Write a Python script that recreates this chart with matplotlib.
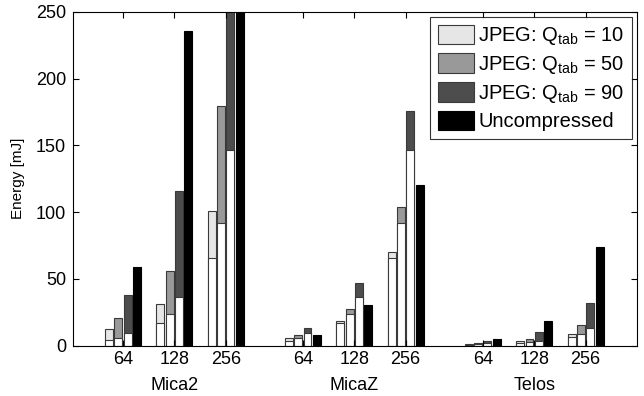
import matplotlib.pyplot as plt
import numpy as np

# dados (mJ)
plataformas = ["Mica2", "MicaZ", "Telos"]
tamanhos = ["64", "128", "256"]

q10_total = [12.3, 31.3, 101.0, 5.5, 18.8, 70.5, 1.5, 3.3, 9.0]
q10_base = [4.3, 16.8, 66.0, 3.8, 16.8, 65.5, 0.8, 2.0, 6.3]
q50_total = [20.5, 56.3, 179.7, 8.0, 27.5, 103.8, 2.0, 5.0, 15.5]
q50_base = [5.5, 23.5, 92.2, 6.0, 23.5, 92.2, 1.0, 2.5, 8.5]
q90_total = [37.8, 116.0, 420.0, 13.0, 47.2, 176.0, 3.5, 10.0, 32.0]
q90_base = [9.3, 36.8, 146.7, 9.3, 36.8, 146.7, 1.8, 3.3, 13.5]
sem_compressao = [59.2, 236.0, 944.0, 8.0, 30.5, 120.0, 5.0, 18.8, 74.2]

rotulos = [r"JPEG: Q$_{\mathrm{tab}}$ = 10", r"JPEG: Q$_{\mathrm{tab}}$ = 50",
           r"JPEG: Q$_{\mathrm{tab}}$ = 90", "Uncompressed"]
cores = ["#e6e6e6", "#999999", "#4d4d4d", "#000000"]

tam_fonte = 13

plt.rcParams.update(
    {
        "font.family": "Liberation Sans",
        "mathtext.fontset": "custom",
        "mathtext.rm": "Liberation Sans",
        "mathtext.it": "Liberation Sans:italic",
        "font.size": tam_fonte,
        "axes.linewidth": 0.8,
    }
)

fig = plt.figure(figsize=(6.44, 3.96), dpi=100)
ax = fig.add_axes([0.1134, 0.127, 0.8757, 0.843])

# posicoes: 3 tamanhos por plataforma, intervalo de 1.5 entre plataformas
pos = np.array([g * 3.5 + i for g in range(3) for i in range(3)], dtype=float)
larg = 0.155
desloc = [-0.2727, -0.0909, 0.0909, 0.2727]

totais = [q10_total, q50_total, q90_total]
bases = [q10_base, q50_base, q90_base]
for k in range(3):
    ax.bar(pos + desloc[k], totais[k], width=larg, color=cores[k],
           edgecolor="#3a3a3a", linewidth=0.8, label=rotulos[k])
    ax.bar(pos + desloc[k], bases[k], width=larg, color="white",
           edgecolor="#3a3a3a", linewidth=0.8)
ax.bar(pos + desloc[3], sem_compressao, width=larg, color=cores[3],
       edgecolor="black", linewidth=0.8, label=rotulos[3])

ax.set_xlim(-0.97, 10.0)
ax.set_ylim(0, 250)
ax.set_yticks([0, 50, 100, 150, 200, 250])
ax.set_xticks(pos)
ax.set_xticklabels(tamanhos * 3)
ax.set_ylabel("Energy [mJ]", fontsize=11, labelpad=8)
ax.tick_params(which="major", direction="in", length=4, width=0.8,
               top=True, right=True, labelsize=tam_fonte)
ax.tick_params(axis="x", pad=4)
ax.tick_params(axis="y", pad=5)

for g, nome in enumerate(plataformas):
    ax.text(pos[g * 3 + 1], -0.118, nome, transform=ax.get_xaxis_transform(),
            ha="center", va="center", fontsize=tam_fonte)

for spine in ax.spines.values():
    spine.set_color("black")

leg = ax.legend(
    loc="upper right",
    bbox_to_anchor=(0.991, 0.985),
    borderaxespad=0,
    fontsize=14.5,
    frameon=True,
    fancybox=False,
    edgecolor="black",
    handlelength=1.8,
    handleheight=1.13,
    handletextpad=0.18,
    labelspacing=0.3,
    borderpad=0.38,
)
leg.get_frame().set_linewidth(0.8)

fig.savefig("out.png", dpi=100, facecolor="white")
